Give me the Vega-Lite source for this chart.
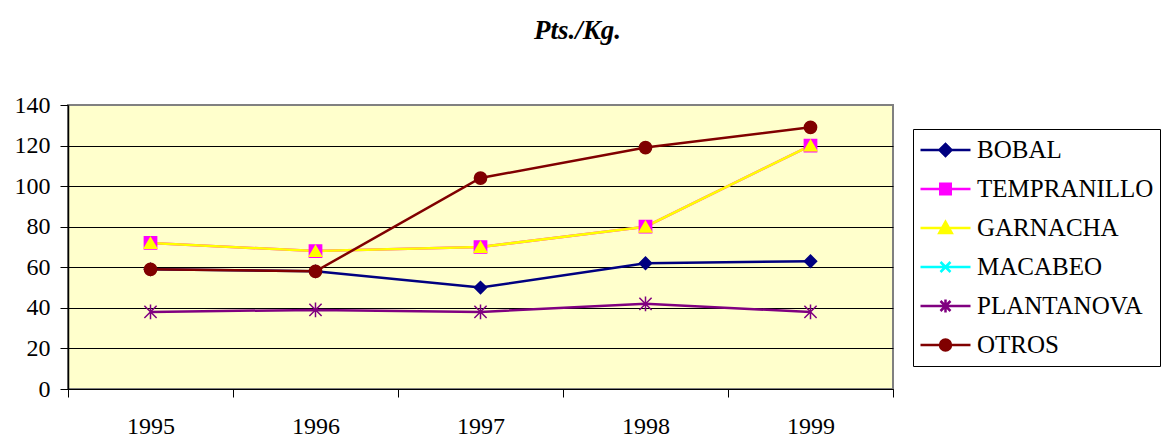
{
  "$schema": "https://vega.github.io/schema/vega-lite/v6.json",
  "width": 825,
  "height": 284,
  "autosize": {"type": "none"},
  "padding": {"left": 68, "top": 105, "right": 270, "bottom": 48},
  "background": "white",
  "title": {
    "text": "Pts./Kg.",
    "font": "Liberation Serif, Times New Roman, serif",
    "fontSize": 27,
    "fontStyle": "italic",
    "fontWeight": "bold",
    "color": "black",
    "anchor": "middle",
    "frame": "group",
    "dx": 97,
    "offset": 48
  },
  "config": {
    "view": {"fill": "#FFFFCC", "stroke": "#808080", "strokeWidth": 2}
  },
  "data": {
    "values": [
      {"variety": "BOBAL", "year": "1995", "price": 59},
      {"variety": "BOBAL", "year": "1996", "price": 58},
      {"variety": "BOBAL", "year": "1997", "price": 50},
      {"variety": "BOBAL", "year": "1998", "price": 62},
      {"variety": "BOBAL", "year": "1999", "price": 63},
      {"variety": "TEMPRANILLO", "year": "1995", "price": 72},
      {"variety": "TEMPRANILLO", "year": "1996", "price": 68},
      {"variety": "TEMPRANILLO", "year": "1997", "price": 70},
      {"variety": "TEMPRANILLO", "year": "1998", "price": 80},
      {"variety": "TEMPRANILLO", "year": "1999", "price": 120},
      {"variety": "GARNACHA", "year": "1995", "price": 72},
      {"variety": "GARNACHA", "year": "1996", "price": 68},
      {"variety": "GARNACHA", "year": "1997", "price": 70},
      {"variety": "GARNACHA", "year": "1998", "price": 80},
      {"variety": "GARNACHA", "year": "1999", "price": 120},
      {"variety": "PLANTANOVA", "year": "1995", "price": 38},
      {"variety": "PLANTANOVA", "year": "1996", "price": 39},
      {"variety": "PLANTANOVA", "year": "1997", "price": 38},
      {"variety": "PLANTANOVA", "year": "1998", "price": 42},
      {"variety": "PLANTANOVA", "year": "1999", "price": 38},
      {"variety": "OTROS", "year": "1995", "price": 59},
      {"variety": "OTROS", "year": "1996", "price": 58},
      {"variety": "OTROS", "year": "1997", "price": 104},
      {"variety": "OTROS", "year": "1998", "price": 119},
      {"variety": "OTROS", "year": "1999", "price": 129}
    ]
  },
  "encoding": {
    "x": {
      "field": "year",
      "type": "ordinal",
      "bandPosition": 0.5,
      "scale": {"type": "band", "paddingInner": 0, "paddingOuter": 0},
      "axis": {
        "title": null,
        "labelAngle": 0,
        "tickBand": "extent",
        "labelFont": "Liberation Serif, Times New Roman, serif",
        "labelFontSize": 24,
        "labelColor": "black",
        "tickSize": 8,
        "tickColor": "black",
        "domainColor": "black",
        "labelPadding": 17,
        "grid": false
      }
    },
    "y": {
      "field": "price",
      "type": "quantitative",
      "scale": {"domain": [0, 140]},
      "axis": {
        "title": null,
        "values": [0, 20, 40, 60, 80, 100, 120, 140],
        "labelFont": "Liberation Serif, Times New Roman, serif",
        "labelFontSize": 24,
        "labelColor": "black",
        "tickColor": "black",
        "tickSize": 8,
        "labelPadding": 10,
        "domainColor": "black",
        "domainWidth": 1.5,
        "grid": true,
        "gridColor": {"condition": {"test": "datum.value == 140", "value": "#808080"}, "value": "black"},
        "gridWidth": 1,
        "gridOpacity": 1
      }
    }
  },
  "resolve": {"scale": {"color": "independent", "shape": "independent", "stroke": "independent"}},
  "layer": [
    {
      "mark": {"type": "line", "strokeWidth": 2.5},
      "encoding": {
        "color": {
          "field": "variety",
          "type": "nominal",
          "scale": {
            "domain": ["BOBAL", "TEMPRANILLO", "GARNACHA", "MACABEO", "PLANTANOVA", "OTROS"],
            "range": ["#000080", "#FF00FF", "#FFFF00", "#00FFFF", "#800080", "#800000"]
          },
          "legend": null
        }
      }
    },
    {
      "mark": {"type": "point", "filled": true, "size": 150, "strokeWidth": 1.5, "opacity": 1},
      "encoding": {
        "color": {
          "field": "variety",
          "type": "nominal",
          "scale": {
            "domain": ["BOBAL", "TEMPRANILLO", "GARNACHA", "MACABEO", "PLANTANOVA", "OTROS"],
            "range": ["#000080", "#FF00FF", "#FFFF00", "#00FFFF", "#800080", "#800000"]
          },
          "legend": null
        },
        "shape": {
          "field": "variety",
          "type": "nominal",
          "scale": {
            "domain": ["BOBAL", "TEMPRANILLO", "GARNACHA", "MACABEO", "PLANTANOVA", "OTROS"],
            "range": ["diamond", "square", "triangle-up", "M-1,-1L1,1M1,-1L-1,1", "M-1,-1L1,1M1,-1L-1,1M0,-1.2L0,1.2", "circle"]
          },
          "legend": null
        },
        "stroke": {
          "field": "variety",
          "type": "nominal",
          "scale": {
            "domain": ["BOBAL", "TEMPRANILLO", "GARNACHA", "MACABEO", "PLANTANOVA", "OTROS"],
            "range": ["#000080", "#FF00FF", "#FFFF00", "#00FFFF", "#800080", "#800000"]
          },
          "legend": null
        }
      }
    },
    {
      "mark": {"type": "point", "filled": true, "size": 10, "strokeWidth": 2.5, "opacity": 0},
      "encoding": {
        "color": {
          "field": "variety",
          "type": "nominal",
          "scale": {
            "domain": ["BOBAL", "TEMPRANILLO", "GARNACHA", "MACABEO", "PLANTANOVA", "OTROS"],
            "range": ["#000080", "#FF00FF", "#FFFF00", "#00FFFF", "#800080", "#800000"]
          },
          "legend": {
            "orient": "none",
            "legendX": 845,
            "legendY": 24,
            "title": null,
            "fillColor": "white",
            "strokeColor": "black",
            "padding": 6,
            "labelFont": "Liberation Serif, Times New Roman, serif",
            "labelFontSize": 25,
            "labelColor": "black",
            "labelLimit": 400,
            "symbolSize": 2500,
            "symbolStrokeWidth": 2.5,
            "symbolOpacity": 1,
            "labelOffset": 5,
            "clipHeight": 30,
            "rowPadding": 9,
            "symbolOffset": 0
          }
        },
        "shape": {
          "field": "variety",
          "type": "nominal",
          "scale": {
            "domain": ["BOBAL", "TEMPRANILLO", "GARNACHA", "MACABEO", "PLANTANOVA", "OTROS"],
            "range": [
              "M-1,0L1,0M-0.24,0L0,-0.24L0.24,0L0,0.24Z",
              "M-1,0L1,0M-0.21,-0.21L0.21,-0.21L0.21,0.21L-0.21,0.21Z",
              "M-1,0L1,0M0,-0.25L0.25,0.2L-0.25,0.2Z",
              "M-1,0L1,0M-0.2,-0.2L0.2,0.2M0.2,-0.2L-0.2,0.2",
              "M-1,0L1,0M-0.2,-0.2L0.2,0.2M0.2,-0.2L-0.2,0.2M0,-0.26L0,0.26",
              "M-1,0L1,0M0.22,0A0.22,0.22,0,1,1,-0.22,0A0.22,0.22,0,1,1,0.22,0Z"
            ]
          },
          "legend": null
        },
        "stroke": {
          "field": "variety",
          "type": "nominal",
          "scale": {
            "domain": ["BOBAL", "TEMPRANILLO", "GARNACHA", "MACABEO", "PLANTANOVA", "OTROS"],
            "range": ["#000080", "#FF00FF", "#FFFF00", "#00FFFF", "#800080", "#800000"]
          },
          "legend": null
        }
      }
    }
  ]
}
